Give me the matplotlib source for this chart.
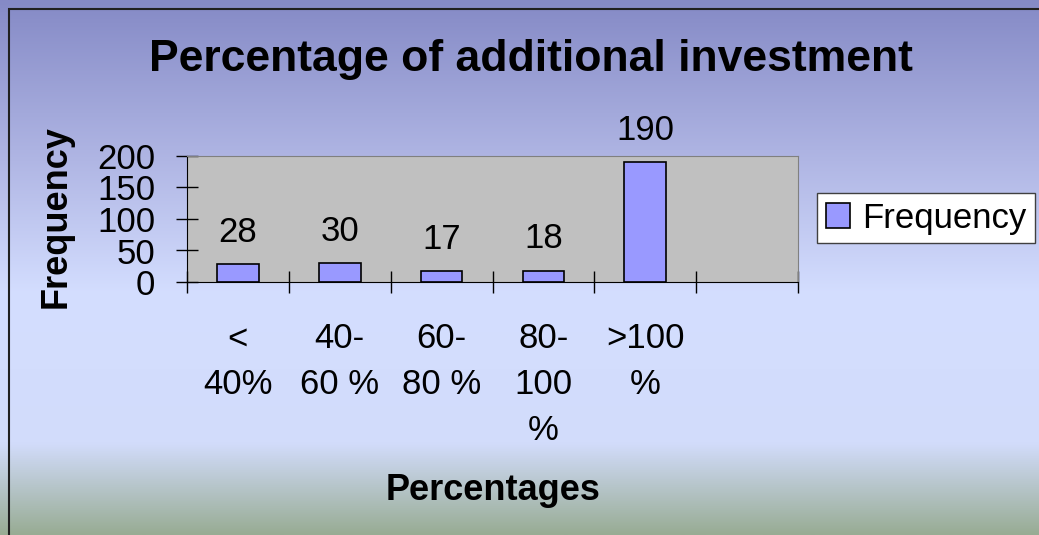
import numpy as np
import matplotlib.pyplot as plt
from matplotlib.colors import LinearSegmentedColormap
from matplotlib.patches import Rectangle

plt.rcParams['font.family'] = ['Liberation Sans', 'DejaVu Sans']

# === Data ===
categories = ["<\n40%", "40-\n60 %", "60-\n80 %", "80-\n100\n%", ">100\n%", ""]
frequency = [28, 30, 17, 18, 190]
series_name = "Frequency"

W, H = 1039, 535
fig = plt.figure(figsize=(W / 100, H / 100), dpi=100)

# === Background gradient (Excel style) ===
bg = fig.add_axes([0, 0, 1, 1], zorder=-10)
bg.axis('off')
grad_cmap = LinearSegmentedColormap.from_list(
    "bg",
    [(0.0, "#858ac6"), (0.30, "#b0b6e4"), (0.55, "#d4deff"),
     (0.83, "#d2dcfb"), (1.0, "#98ac94")])
bg.imshow(np.linspace(0, 1, 256).reshape(-1, 1), aspect='auto', cmap=grad_cmap,
          extent=[0, 1, 0, 1], origin='upper')
bg.set_xlim(0, 1)
bg.set_ylim(0, 1)
bg.add_patch(Rectangle((9 / W, -0.1), 1.2, 1.1 - 9 / H, fill=False,
                       edgecolor='#202020', linewidth=1.5))

# === Chart ===
ax = fig.add_axes([187 / W, 1 - 282 / H, (798 - 187) / W, (282 - 156) / H])
ax.set_facecolor('#c0c0c0')
x = np.arange(len(categories))
bars = ax.bar(x[:len(frequency)], frequency, width=0.41, color='#9999ff',
              edgecolor='black', linewidth=1.2, label=series_name)
ax.bar_label(bars, padding=11, fontsize=25)

ax.set_xlim(-0.5, len(categories) - 0.5)
ax.set_ylim(0, 200)
ax.set_yticks([0, 50, 100, 150, 200])
ax.tick_params(axis='y', labelsize=25, direction='inout', length=16, width=1,
               pad=15)
ax.set_xticks(x)
ax.set_xticklabels(categories, fontsize=25, linespacing=1.5, va='top')
ax.tick_params(axis='x', length=0, pad=29)
ax.set_xticks(np.arange(-0.5, len(categories)), minor=True)
ax.tick_params(axis='x', which='minor', direction='inout', length=16, width=1)
for side in ['top', 'right']:
    ax.spines[side].set_color('#808080')
for side in ['left', 'bottom']:
    ax.spines[side].set_color('black')

fig.text(531 / W, 1 - 60 / H, "Percentage of additional investment",
         fontsize=32, fontweight='bold', ha='center', va='center')
fig.text(56 / W, 1 - 217 / H, "Frequency", fontsize=26, fontweight='bold',
         rotation=90, ha='center', va='center')
fig.text(493 / W, 1 - 490 / H, "Percentages", fontsize=26, fontweight='bold',
         ha='center', va='center')

leg = fig.legend(loc='upper left', bbox_to_anchor=(817 / W, 1 - 193 / H),
                 fontsize=25, frameon=True, fancybox=False, handlelength=0.7,
                 handleheight=0.7, handletextpad=0.35, borderpad=0.25,
                 borderaxespad=0)
leg.get_frame().set_edgecolor('#404040')
leg.get_frame().set_facecolor('white')
leg.get_frame().set_alpha(1)

fig.savefig("out.png", dpi=100)
